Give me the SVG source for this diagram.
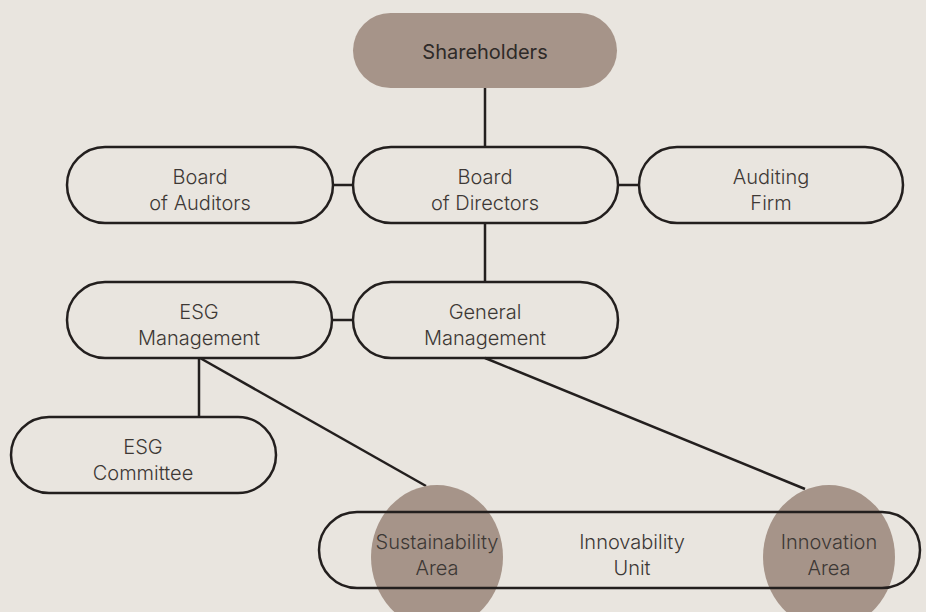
<svg xmlns="http://www.w3.org/2000/svg" width="926" height="612" viewBox="0 0 926 612">
<style>
.bg{fill:#e9e5df}
.node{fill:none;stroke:#231f1e;stroke-width:2.5}
.fill{fill:#a69489}
.conn line{stroke:#231f1e;stroke-width:2.5}
text{font-family:"Inter Light",Inter,"Liberation Sans",Arial,sans-serif;font-size:20px;fill:#3d3835;text-anchor:middle;font-weight:300}
.strong{font-family:Inter,"Liberation Sans",Arial,sans-serif;font-weight:400;fill:#2e2a28}
</style>
<rect class="bg" x="0" y="0" width="926" height="612"/>
<g id="connectors" class="conn">
<line x1="485" y1="88" x2="485" y2="147"/>
<line x1="333" y1="185" x2="353" y2="185"/>
<line x1="618" y1="185" x2="639" y2="185"/>
<line x1="485" y1="223" x2="485" y2="282"/>
<line x1="332" y1="320" x2="353" y2="320"/>
<line x1="199" y1="358" x2="199" y2="417"/>
<line x1="200" y1="358" x2="426" y2="486"/>
<line x1="485" y1="358" x2="805" y2="489"/>
</g>
<g id="shareholders">
<rect class="fill" x="353" y="13" width="264" height="75" rx="37.5"/>
<text class="strong" x="485" y="59">Shareholders</text>
</g>
<g id="board-of-auditors">
<rect class="node" x="67" y="147" width="266" height="76" rx="38"/>
<text x="200" y="184">Board</text>
<text x="200" y="210">of Auditors</text>
</g>
<g id="board-of-directors">
<rect class="node" x="353" y="147" width="265" height="76" rx="38"/>
<text x="485" y="184">Board</text>
<text x="485" y="210">of Directors</text>
</g>
<g id="auditing-firm">
<rect class="node" x="639" y="147" width="264" height="76" rx="38"/>
<text x="771" y="184">Auditing</text>
<text x="771" y="210">Firm</text>
</g>
<g id="esg-management">
<rect class="node" x="67" y="282" width="265" height="76" rx="38"/>
<text x="199" y="319">ESG</text>
<text x="199" y="345">Management</text>
</g>
<g id="general-management">
<rect class="node" x="353" y="282" width="265" height="76" rx="38"/>
<text x="485" y="319">General</text>
<text x="485" y="345">Management</text>
</g>
<g id="esg-committee">
<rect class="node" x="11" y="417" width="265" height="76" rx="38"/>
<text x="143" y="454">ESG</text>
<text x="143" y="480">Committee</text>
</g>
<g id="sustainability-area">
<ellipse class="fill" cx="437" cy="557" rx="66" ry="72"/>
</g>
<g id="innovation-area">
<ellipse class="fill" cx="829" cy="557" rx="66" ry="72"/>
</g>
<g id="innovability-unit">
<rect class="node" x="319" y="512" width="601" height="76" rx="38"/>
<text x="632" y="549">Innovability</text>
<text x="632" y="575">Unit</text>
</g>
<g id="sustainability-area-label">
<text x="437" y="549">Sustainability</text>
<text x="437" y="575">Area</text>
</g>
<g id="innovation-area-label">
<text x="829" y="549">Innovation</text>
<text x="829" y="575">Area</text>
</g>
</svg>
